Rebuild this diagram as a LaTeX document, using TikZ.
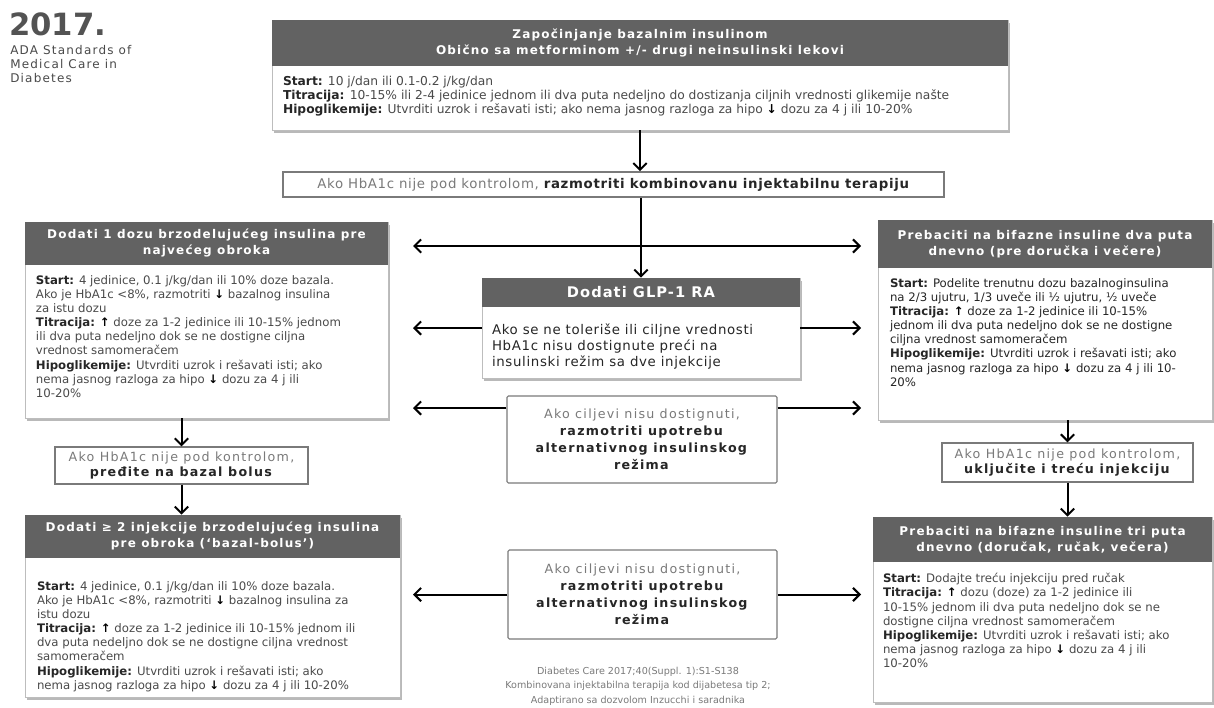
\documentclass[tikz,border=0pt]{standalone}
\usepackage{fontspec}
\setmainfont{DejaVu Sans}
\newfontfamily\hfont[LetterSpace=10]{DejaVu Sans}
\newfontfamily\gfont[LetterSpace=7]{DejaVu Sans}
\newfontfamily\mfont[LetterSpace=5]{DejaVu Sans}
\usetikzlibrary{arrows.meta,shadows}

\definecolor{hdr}{HTML}{626262}
\definecolor{txt}{HTML}{4A4A4A}
\definecolor{rim}{HTML}{BDBDBD}
\definecolor{lbl}{HTML}{262626}
\definecolor{soft}{HTML}{7A7A7A}

% bold run-in labels and the little dose arrows
\newcommand\lb[1]{\textcolor{lbl}{\bfseries #1}}
\newcommand\arrup{\textcolor{black}{\bfseries ↑}}
\newcommand\arrdn{\textcolor{black}{\bfseries ↓}}

\begin{document}
\begin{tikzpicture}[x=0.75pt,y=-0.75pt,
  >={Straight Barb[length=5pt,width=10pt]},
  frame/.style={draw=rim,fill=white,line width=.6pt,inner sep=0pt,
    drop shadow={shadow xshift=1.5pt,shadow yshift=-2pt,opacity=.55}},
  head/.style={fill=hdr,text=white,inner sep=0pt,anchor=north,align=center,
    font=\hfont\bfseries\fontsize{9}{12}\selectfont},
  body/.style={anchor=north west,inner sep=0pt,align=left,text=txt,
    font=\fontsize{8.8}{10.6}\selectfont},
  note/.style={draw=soft,fill=white,line width=1pt,inner sep=0pt,align=center,
    text=lbl,font=\hfont\fontsize{9.5}{11.5}\selectfont},
  alt/.style={note,line width=.8pt,rounded corners=1pt,
    font=\hfont\fontsize{9.5}{12.75}\selectfont},
  arr/.style={line width=1.5pt,->}]

\useasboundingbox (0,0) rectangle (1214,707);
\fill[white] (0,0) rectangle (1214,707);

% title block
\node[anchor=north west,inner sep=0pt,text=hdr!85!black,
  font=\bfseries\fontsize{23}{26}\selectfont] (year) at (9,12) {2017.};
\node[anchor=north west,inner sep=0pt,align=left,text=txt,
  font=\hfont\fontsize{9}{10.5}\selectfont] (ada) at (10,45)
  {ADA Standards of\\Medical Care in\\Diabetes};

% basal insulin start
\node[frame,minimum width=552pt,minimum height=82.5pt] (start) at (640,75) {};
\node[head,minimum width=552pt,minimum height=34.5pt] (starth) at (start.north)
  {Započinjanje bazalnim insulinom\\Obično sa metforminom +/- drugi neinsulinski lekovi};
\node[body,font=\fontsize{9.2}{10.4}\selectfont] (startb) at ([shift={(11,10)}]starth.south west)
  {\lb{Start:} 10 j/dan ili 0.1-0.2 j/kg/dan\\
   \lb{Titracija:} 10-15\% ili 2-4 jedinice jednom ili dva puta nedeljno do dostizanja ciljnih vrednosti glikemije našte\\
   \lb{Hipoglikemije:} Utvrditi uzrok i rešavati isti; ako nema jasnog razloga za hipo \arrdn\ dozu za 4 j ili 10-20\%};

\node[note,line width=1.3pt,minimum width=495.75pt,minimum height=18.75pt,
  font=\mfont\fontsize{10}{12}\selectfont,
  drop shadow={shadow xshift=.8pt,shadow yshift=-.8pt,opacity=.3}] (strip) at (613.5,184.5)
  {\textcolor{soft}{Ako HbA1c nije pod kontrolom,}
   \textbf{razmotriti kombinovanu injektabilnu terapiju}};

% left column
\node[frame,minimum width=272.25pt,minimum height=147pt] (lbox1) at (206.5,320) {};
\node[head,minimum width=272.25pt,minimum height=32.25pt] (lbox1h) at (lbox1.north)
  {Dodati 1 dozu brzodelujućeg insulina pre\\najvećeg obroka};
\node[body] (lbox1b) at ([shift={(11,10)}]lbox1h.south west)
  {\lb{Start:} 4 jedinice, 0.1 j/kg/dan ili 10\% doze bazala.\\
   Ako je HbA1c <8\%, razmotriti \arrdn\ bazalnog insulina\\
   za istu dozu\\
   \lb{Titracija:} \arrup\ doze za 1-2 jedinice ili 10-15\% jednom\\
   ili dva puta nedeljno dok se ne dostigne ciljna\\
   vrednost samomeračem\\
   \lb{Hipoglikemije:} Utvrditi uzrok i rešavati isti; ako\\
   nema jasnog razloga za hipo \arrdn\ dozu za 4 j ili\\
   10-20\%};

\node[note,minimum width=189.75pt,minimum height=27.75pt] (lsmall) at (181.5,465.5)
  {\textcolor{soft}{Ako HbA1c nije pod kontrolom,}\\\textbf{pređite na bazal bolus}};

\node[frame,minimum width=281.25pt,minimum height=136.5pt] (lbox2) at (212.5,606) {};
\node[head,minimum width=281.25pt,minimum height=32.25pt] (lbox2h) at (lbox2.north)
  {Dodati ≥ 2 injekcije brzodelujućeg insulina\\pre obroka (‘bazal-bolus’)};
\node[body] (lbox2b) at ([shift={(12,23)}]lbox2h.south west)
  {\lb{Start:} 4 jedinice, 0.1 j/kg/dan ili 10\% doze bazala.\\
   Ako je HbA1c <8\%, razmotriti \arrdn\ bazalnog insulina za\\
   istu dozu\\
   \lb{Titracija:} \arrup\ doze za 1-2 jedinice ili 10-15\% jednom ili\\
   dva puta nedeljno dok se ne dostigne ciljna vrednost\\
   samomeračem\\
   \lb{Hipoglikemije:} Utvrditi uzrok i rešavati isti; ako\\
   nema jasnog razloga za hipo \arrdn\ dozu za 4 j ili 10-20\%};

% middle column
\node[frame,minimum width=238.5pt,minimum height=75pt] (glp) at (641,328) {};
\node[head,minimum width=238.5pt,minimum height=21.75pt,
  font=\gfont\bfseries\fontsize{11}{13}\selectfont] (glph) at (glp.north) {Dodati GLP-1 RA};
\node[body,text=lbl,font=\mfont\fontsize{10}{12}\selectfont] (glpb) at ([shift={(10,16)}]glph.south west)
  {Ako se ne toleriše ili ciljne vrednosti\\
   HbA1c nisu dostignute preći na\\
   insulinski režim sa dve injekcije};

\node[alt,minimum width=202.5pt,minimum height=65.25pt] (alt1) at (642,439.5)
  {\textcolor{soft}{Ako ciljevi nisu dostignuti,}\\\textbf{razmotriti upotrebu}\\
   \textbf{alternativnog insulinskog}\\\textbf{režima}};
\node[alt,minimum width=201.75pt,minimum height=66.75pt] (alt2) at (642.5,594.5)
  {\textcolor{soft}{Ako ciljevi nisu dostignuti,}\\\textbf{razmotriti upotrebu}\\
   \textbf{alternativnog insulinskog}\\\textbf{režima}};

\node[anchor=north,inner sep=0pt,align=center,text=soft,
  font=\fontsize{7.2}{10.8}\selectfont] (src) at (638,667)
  {Diabetes Care 2017;40(Suppl. 1):S1-S138\\
   Kombinovana injektabilna terapija kod dijabetesa tip 2;\\
   Adaptirano sa dozvolom Inzucchi i saradnika};

% right column
\node[frame,minimum width=250.5pt,minimum height=150pt] (rbox1) at (1045,320) {};
\node[head,minimum width=250.5pt,minimum height=36pt] (rbox1h) at (rbox1.north)
  {Prebaciti na bifazne insuline dva puta\\dnevno (pre doručka i večere)};
\node[body,text=lbl] (rbox1b) at ([shift={(12,10)}]rbox1h.south west)
  {\lb{Start:} Podelite trenutnu dozu bazalnoginsulina\\
   na 2/3 ujutru, 1/3 uveče ili ½ ujutru, ½ uveče\\
   \lb{Titracija:} \arrup\ doze za 1-2 jedinice ili 10-15\%\\
   jednom ili dva puta nedeljno dok se ne dostigne\\
   ciljna vrednost samomeračem\\
   \lb{Hipoglikemije:} Utvrditi uzrok i rešavati isti; ako\\
   nema jasnog razloga za hipo \arrdn\ dozu za 4 j ili 10-\\
   20\%};

\node[note,minimum width=188.25pt,minimum height=29.25pt] (rsmall) at (1067.5,462.5)
  {\textcolor{soft}{Ako HbA1c nije pod kontrolom,}\\\textbf{uključite i treću injekciju}};

\node[frame,minimum width=254.25pt,minimum height=138.75pt] (rbox2) at (1042.5,609.5) {};
\node[head,minimum width=254.25pt,minimum height=33.75pt] (rbox2h) at (rbox2.north)
  {Prebaciti na bifazne insuline tri puta\\dnevno (doručak, ručak, večera)};
\node[body] (rbox2b) at ([shift={(10,11)}]rbox2h.south west)
  {\lb{Start:} Dodajte treću injekciju pred ručak\\
   \lb{Titracija:} \arrup\ dozu (doze) za 1-2 jedinice ili\\
   10-15\% jednom ili dva puta nedeljno dok se ne\\
   dostigne ciljna vrednost samomeračem\\
   \lb{Hipoglikemije:} Utvrditi uzrok i rešavati isti; ako\\
   nema jasnog razloga za hipo \arrdn\ dozu za 4 j ili\\
   10-20\%};

% free ends of the side arrows
\coordinate (xl) at (413,0);
\coordinate (xr) at (861,0);
\coordinate (y1) at (0,246);
\coordinate (y2) at (0,408);

\draw[arr] (start.south) -- (start.south |- strip.north);
\draw[arr] (strip.south -| glp.north) -- (glp.north);
\draw[arr,<->] (xl |- y1) -- (xr |- y1);
\draw[arr] (glp.west) -- (glp.west -| xl);
\draw[arr] (glp.east) -- (glp.east -| xr);
\draw[arr] (alt1.west |- y2) -- (xl |- y2);
\draw[arr] (alt1.east |- y2) -- (xr |- y2);
\draw[arr] (alt2.west) -- (alt2.west -| xl);
\draw[arr] (alt2.east) -- (alt2.east -| xr);

\draw[arr] (lsmall.north |- lbox1.south) -- (lsmall.north);
\draw[arr] (lsmall.south) -- (lsmall.south |- lbox2.north);
\draw[arr] (rsmall.north |- rbox1.south) -- (rsmall.north);
\draw[arr] (rsmall.south) -- (rsmall.south |- rbox2.north);
\end{tikzpicture}
\end{document}
